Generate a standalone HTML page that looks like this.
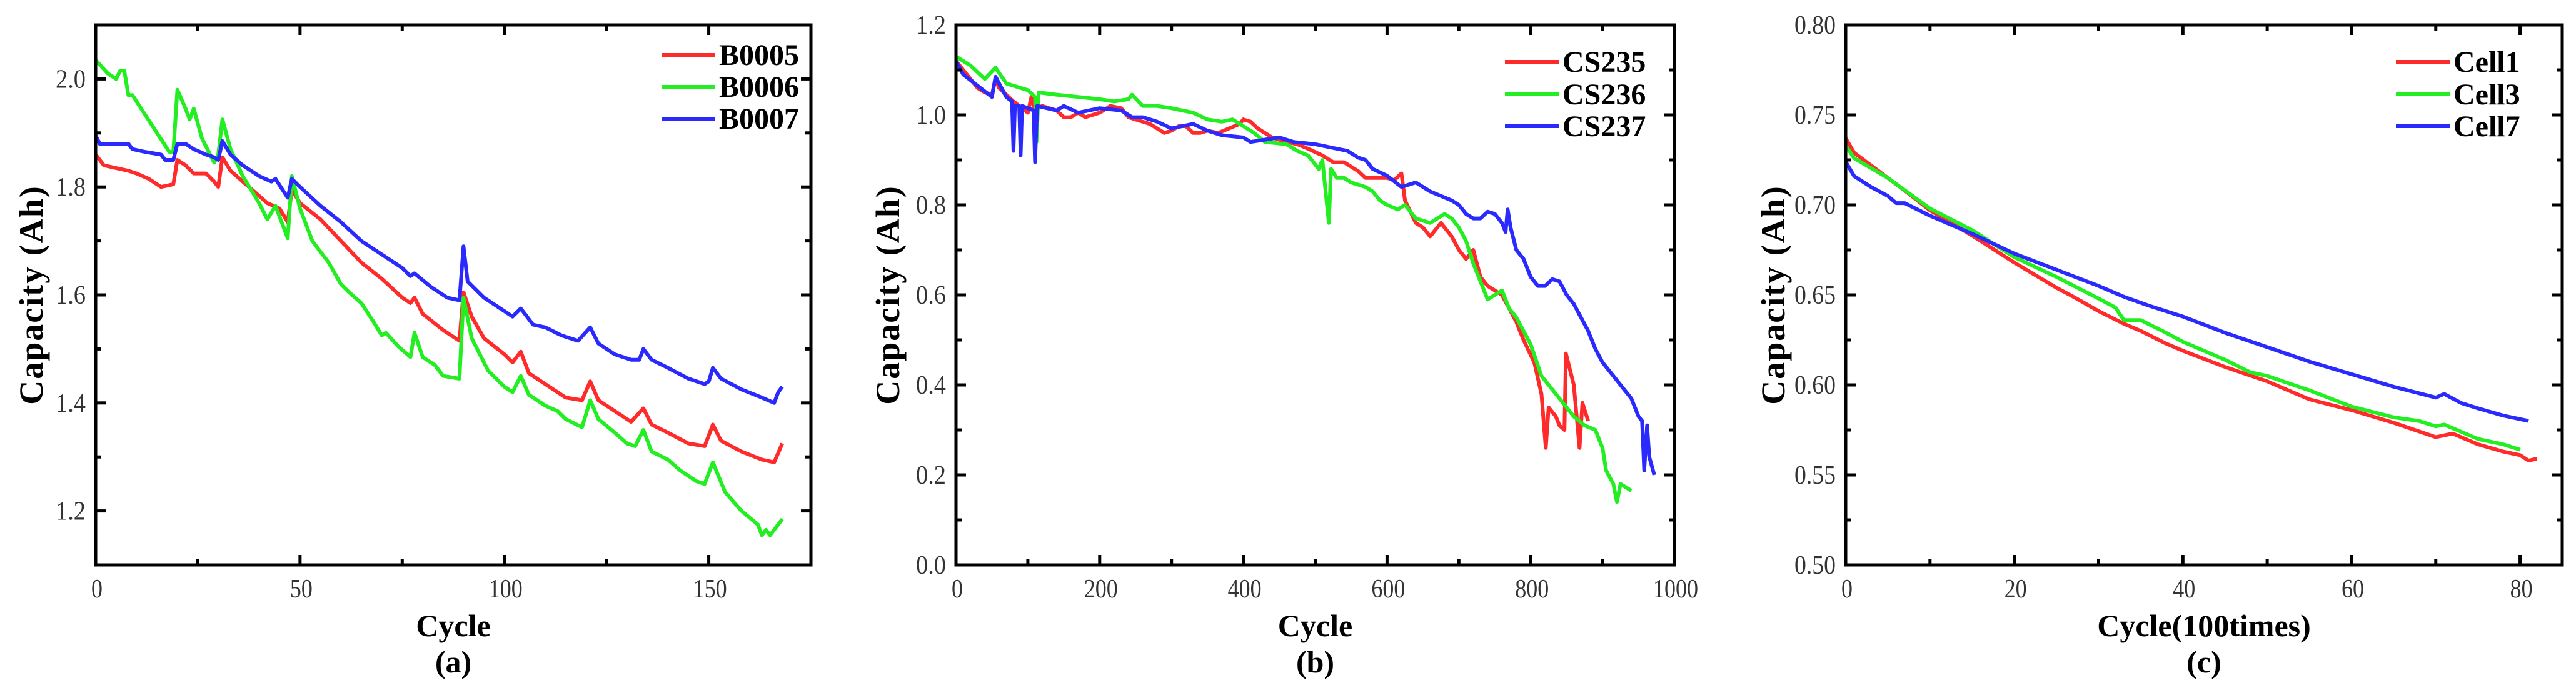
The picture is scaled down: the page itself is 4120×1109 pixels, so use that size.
<!DOCTYPE html>
<html><head><meta charset="utf-8"><style>
html,body{margin:0;padding:0;background:#fff;}
svg{display:block;}
.tk{font-family:"Liberation Serif",serif;font-size:42px;fill:#333;}
.ttl{font-family:"Liberation Serif",serif;font-size:50px;font-weight:bold;fill:#000;}
.ytl{font-family:"Liberation Serif",serif;font-size:54px;font-weight:bold;fill:#000;letter-spacing:2px;}
.lg{font-family:"Liberation Serif",serif;font-size:48px;font-weight:bold;fill:#000;}
</style></head><body>
<svg id="fig" width="4120" height="1109" viewBox="0 0 4120 1109" xmlns="http://www.w3.org/2000/svg"></svg>
<script>
// ---- Panel (a) NASA data: [cycle, capacity]
const aRed = [[0,1.86],[2,1.84],[5,1.835],[8,1.83],[10,1.825],[13,1.815],[16,1.80],[19,1.805],[20,1.85],[22,1.84],[24,1.825],[27,1.825],[29,1.81],[30,1.80],[31,1.855],[33,1.83],[36,1.81],[39,1.79],[42,1.77],[45,1.76],[47,1.735],[48,1.795],[50,1.77],[55,1.74],[60,1.70],[65,1.66],[70,1.63],[75,1.595],[77,1.585],[78,1.595],[80,1.565],[85,1.535],[89,1.515],[90,1.605],[92,1.56],[95,1.52],[100,1.49],[102,1.475],[104,1.495],[106,1.455],[110,1.435],[115,1.41],[119,1.405],[121,1.44],[123,1.405],[127,1.385],[131,1.365],[134,1.39],[136,1.36],[140,1.345],[145,1.325],[149,1.32],[151,1.36],[153,1.33],[158,1.31],[163,1.295],[166,1.29],[168,1.325]];
const aGreen = [[0,2.035],[3,2.01],[5,2.0],[6,2.015],[7,2.015],[8,1.97],[9,1.97],[18,1.865],[19,1.865],[20,1.98],[22,1.945],[23,1.925],[24,1.945],[26,1.89],[29,1.845],[30,1.86],[31,1.925],[33,1.87],[36,1.82],[40,1.77],[42,1.74],[44,1.765],[47,1.705],[48,1.82],[50,1.76],[53,1.70],[57,1.66],[60,1.62],[62,1.605],[65,1.585],[68,1.55],[70,1.525],[71,1.53],[74,1.505],[77,1.485],[78,1.53],[80,1.485],[83,1.47],[85,1.45],[89,1.445],[90,1.595],[92,1.52],[96,1.46],[100,1.43],[102,1.42],[104,1.45],[106,1.415],[110,1.395],[113,1.385],[115,1.37],[119,1.355],[121,1.405],[123,1.37],[127,1.345],[130,1.325],[132,1.32],[134,1.35],[136,1.31],[140,1.295],[143,1.275],[147,1.255],[149,1.25],[151,1.29],[154,1.235],[158,1.20],[162,1.175],[163,1.155],[164,1.165],[165,1.155],[168,1.185]];
const aBlue = [[0,1.895],[1,1.88],[8,1.88],[9,1.87],[12,1.865],[16,1.86],[17,1.85],[19,1.85],[20,1.88],[22,1.88],[24,1.87],[27,1.86],[29,1.855],[30,1.85],[31,1.885],[33,1.86],[36,1.84],[40,1.82],[43,1.81],[44,1.815],[47,1.78],[48,1.815],[50,1.80],[55,1.765],[60,1.735],[65,1.70],[70,1.675],[75,1.65],[77,1.635],[78,1.64],[82,1.615],[86,1.595],[89,1.59],[90,1.69],[91,1.625],[95,1.595],[100,1.57],[102,1.56],[104,1.575],[107,1.545],[110,1.54],[114,1.525],[118,1.515],[121,1.54],[123,1.51],[127,1.49],[131,1.48],[133,1.48],[134,1.50],[136,1.48],[140,1.465],[145,1.445],[149,1.435],[150,1.44],[151,1.465],[153,1.445],[158,1.425],[163,1.41],[166,1.40],[167,1.42],[168,1.43]];
const aXTicks = [0,50,100,150];
const aYTicks = [1.2,1.4,1.6,1.8,2.0];
const aNames = ["B0005","B0006","B0007"];

// ---- Panel (b) CALCE data
const bRed = [[0,1.12],[10,1.10],[20,1.08],[30,1.06],[40,1.05],[50,1.045],[55,1.08],[60,1.06],[80,1.03],[100,1.005],[105,1.04],[110,1.01],[120,1.02],[130,1.015],[140,1.01],[150,0.995],[160,0.995],[170,1.005],[180,0.995],[200,1.005],[215,1.02],[230,1.015],[240,0.995],[250,0.99],[260,0.985],[270,0.98],[280,0.97],[290,0.96],[300,0.965],[310,0.975],[320,0.975],[330,0.96],[340,0.96],[350,0.965],[365,0.96],[380,0.97],[395,0.98],[400,0.99],[410,0.985],[420,0.97],[430,0.96],[440,0.95],[460,0.94],[475,0.935],[490,0.925],[510,0.91],[525,0.895],[540,0.895],[560,0.875],[570,0.86],[580,0.86],[600,0.86],[610,0.855],[620,0.87],[625,0.81],[640,0.76],[650,0.75],[660,0.73],[670,0.75],[675,0.76],[690,0.73],[700,0.70],[710,0.68],[720,0.70],[730,0.64],[740,0.62],[750,0.61],[760,0.60],[770,0.57],[780,0.54],[790,0.50],[805,0.45],[815,0.38],[821,0.26],[825,0.35],[835,0.33],[840,0.31],[847,0.30],[849,0.47],[860,0.40],[868,0.26],[872,0.36],[880,0.32]];
const bGreen = [[0,1.13],[20,1.11],[40,1.08],[55,1.105],[70,1.07],[100,1.055],[110,1.04],[112,0.94],[115,1.05],[140,1.045],[170,1.04],[200,1.035],[220,1.03],[240,1.035],[245,1.045],[260,1.02],[280,1.02],[300,1.015],[315,1.01],[330,1.005],[350,0.99],[370,0.985],[385,0.99],[400,0.975],[415,0.96],[430,0.94],[460,0.935],[475,0.92],[490,0.91],[505,0.88],[510,0.90],[519,0.76],[522,0.88],[530,0.86],[540,0.86],[550,0.85],[560,0.845],[570,0.84],[580,0.83],[590,0.81],[600,0.80],[615,0.79],[625,0.80],[640,0.77],[660,0.76],[670,0.77],[680,0.78],[690,0.77],[700,0.75],[710,0.72],[720,0.67],[730,0.63],[740,0.59],[750,0.60],[760,0.61],[770,0.57],[780,0.55],[790,0.52],[800,0.49],[815,0.42],[830,0.39],[845,0.36],[860,0.33],[875,0.31],[890,0.30],[900,0.26],[905,0.21],[915,0.18],[920,0.14],[925,0.18],[940,0.165]];
const bBlue = [[0,1.12],[10,1.09],[30,1.065],[50,1.04],[55,1.085],[70,1.04],[78,1.03],[80,0.92],[82,1.02],[88,1.02],[90,0.91],[92,1.02],[108,1.01],[110,0.895],[113,1.02],[140,1.01],[150,1.02],[170,1.005],[200,1.015],[230,1.01],[245,0.995],[260,0.995],[280,0.985],[300,0.97],[315,0.975],[330,0.98],[350,0.965],[370,0.955],[400,0.95],[410,0.94],[430,0.945],[450,0.95],[470,0.94],[500,0.935],[515,0.93],[530,0.925],[545,0.92],[560,0.905],[570,0.9],[580,0.88],[600,0.865],[620,0.84],[640,0.85],[650,0.84],[660,0.83],[675,0.82],[690,0.81],[700,0.8],[710,0.78],[720,0.77],[730,0.77],[740,0.785],[750,0.78],[760,0.76],[765,0.74],[768,0.79],[772,0.75],[780,0.70],[790,0.68],[800,0.64],[810,0.62],[820,0.62],[830,0.635],[840,0.63],[850,0.6],[860,0.58],[870,0.55],[880,0.52],[890,0.48],[900,0.45],[910,0.43],[920,0.41],[930,0.39],[940,0.37],[950,0.33],[955,0.32],[958,0.21],[962,0.31],[965,0.24],[972,0.20]];
const bXTicks = [0,200,400,600,800,1000];
const bYTicks = [0.0,0.2,0.4,0.6,0.8,1.0,1.2];
const bNames = ["CS235","CS236","CS237"];

// ---- Panel (c) Oxford data
const cRed = [[0,0.737],[1,0.729],[3,0.722],[5,0.715],[7,0.708],[10,0.697],[15,0.683],[20,0.668],[25,0.654],[27,0.649],[30,0.641],[33,0.634],[35,0.630],[38,0.623],[40,0.619],[45,0.610],[50,0.602],[52,0.598],[55,0.592],[60,0.586],[65,0.579],[70,0.571],[72,0.573],[75,0.567],[78,0.563],[80,0.561],[81,0.558],[82,0.559]];
const cGreen = [[0,0.733],[1,0.726],[5,0.715],[10,0.698],[15,0.686],[20,0.671],[25,0.660],[30,0.648],[32,0.643],[33,0.636],[35,0.636],[38,0.629],[40,0.624],[45,0.614],[48,0.607],[50,0.605],[55,0.597],[60,0.588],[65,0.582],[68,0.580],[70,0.577],[71,0.578],[75,0.570],[78,0.567],[80,0.564]];
const cBlue = [[0,0.724],[1,0.716],[3,0.710],[5,0.705],[6,0.701],[7,0.701],[10,0.694],[15,0.684],[20,0.673],[25,0.664],[30,0.655],[33,0.649],[36,0.644],[40,0.638],[45,0.629],[50,0.621],[55,0.613],[60,0.606],[65,0.599],[70,0.593],[71,0.595],[73,0.590],[75,0.587],[78,0.583],[81,0.580]];
const cXTicks = [0,20,40,60,80];
const cYTicks = [0.50,0.55,0.60,0.65,0.70,0.75,0.80];
const cNames = ["Cell1","Cell3","Cell7"];

const NS = "http://www.w3.org/2000/svg";
const svg = document.getElementById("fig");
function mk(tag, attrs, parent){
  const e = document.createElementNS(NS, tag);
  for (const k in attrs) e.setAttribute(k, attrs[k]);
  (parent||svg).appendChild(e);
  return e;
}
const COLORS = ["#ff2a2a","#22ee22","#2a2aff"];
function tlen(s){ let n = 0; for (const ch of s) n += (ch === ".") ? 12 : 18; return n; }

function panel(p){
  const g = mk("g", {});
  
  
  const X = v => p.L + (v - p.x0) / (p.x1 - p.x0) * (p.R - p.L);
  const Y = v => p.B - (v - p.y0) / (p.y1 - p.y0) * (p.B - p.T);
  p.series.forEach((s, i) => {
    const pl = mk("polyline", {points: s.map(d => X(d[0]).toFixed(1) + "," + Y(d[1]).toFixed(1)).join(" "), fill:"none", stroke:COLORS[i], "stroke-width":6, "stroke-linejoin":"round"}, g);
    
    
  });
  const tg = mk("g", {stroke:"#000","stroke-width":5}, g);
  
  
  const xt = p.xTicks, yt = p.yTicks;
  const xs = (xt[1]-xt[0])/2, ys = (yt[1]-yt[0])/2;
  for (let v = p.x0; v <= p.x1 + 1e-9; v += xs) {
    const major = Math.abs(((v - xt[0]) / (xt[1]-xt[0])) - Math.round((v - xt[0]) / (xt[1]-xt[0]))) < 1e-6;
    const len = major ? 16 : 9, x = X(v);
    if (x < p.L+3 || x > p.R-3) continue;
    mk("line", {x1:x, y1:p.B, x2:x, y2:p.B-len}, tg);
    mk("line", {x1:x, y1:p.T, x2:x, y2:p.T+len}, tg);
  }
  for (let v = p.y0; v <= p.y1 + 1e-9; v += ys) {
    const major = Math.abs(((v - yt[0]) / (yt[1]-yt[0])) - Math.round((v - yt[0]) / (yt[1]-yt[0]))) < 1e-6;
    const len = major ? 16 : 9, y = Y(v);
    if (y < p.T+3 || y > p.B-3) continue;
    mk("line", {x1:p.L, y1:y, x2:p.L+len, y2:y}, tg);
    mk("line", {x1:p.R, y1:y, x2:p.R-len, y2:y}, tg);
  }
  const fr = mk("rect", {x:p.L, y:p.T, width:p.R-p.L, height:p.B-p.T, fill:"none", stroke:"#000", "stroke-width":5}, g);
  
  
  xt.forEach(v => {
    const s = String(v);
    const t = mk("text", {x:X(v)+2, y:956, "text-anchor":"middle", class:"tk", textLength:tlen(s), lengthAdjust:"spacingAndGlyphs"}, g);
    t.textContent = s;
    
    
  });
  yt.forEach(v => {
    const s = v.toFixed(p.yDec);
    const t = mk("text", {x:p.L-16, y:Y(v)+14, "text-anchor":"end", class:"tk", textLength:tlen(s), lengthAdjust:"spacingAndGlyphs"}, g);
    t.textContent = s;
    
    
  });
  const cx = (p.L + p.R) / 2;
  const xtl = mk("text", {x:cx, y:1018, "text-anchor":"middle", class:"ttl"}, g);
  xtl.textContent = p.xTitle;
  
  
  const cap = mk("text", {x:cx, y:1076, "text-anchor":"middle", class:"ttl"}, g);
  cap.textContent = p.caption;
  
  
  const ym = (p.T + p.B) / 2;
  const ytl = mk("text", {x:p.yTitleX, y:ym, "text-anchor":"middle", class:"ytl", transform:"rotate(-90 " + p.yTitleX + " " + ym + ")", dy:"18"}, g);
  ytl.textContent = "Capacity (Ah)";
  
  
  p.names.forEach((n, i) => {
    const y = p.legY[i];
    const lg = mk("g", {}, g);
    
    
    mk("line", {x1:p.legX, y1:y, x2:p.legX+86, y2:y, stroke:COLORS[i], "stroke-width":6}, lg);
    const t = mk("text", {x:p.legX+92, y:y+16, class:"lg"}, lg);
    t.textContent = n;
  });
}

panel({id:"a", L:153, R:1297, T:40, B:904, x0:0, x1:175, y0:1.1, y1:2.1, xTicks:aXTicks, yTicks:aYTicks, yDec:1,
  series:[aRed,aGreen,aBlue], names:aNames, xTitle:"Cycle", caption:"(a)", yTitleX:50, legX:1058, legY:[88,139,190]});
panel({id:"b", L:1529, R:2678, T:40, B:904, x0:0, x1:1000, y0:0, y1:1.2, xTicks:bXTicks, yTicks:bYTicks, yDec:1,
  series:[bRed,bGreen,bBlue], names:bNames, xTitle:"Cycle", caption:"(b)", yTitleX:1420, legX:2407, legY:[99,151,202]});
panel({id:"c", L:2952, R:4098, T:40, B:904, x0:0, x1:85, y0:0.5, y1:0.8, xTicks:cXTicks, yTicks:cYTicks, yDec:2,
  series:[cRed,cGreen,cBlue], names:cNames, xTitle:"Cycle(100times)", caption:"(c)", yTitleX:2836, legX:3832, legY:[99,151,202]});
</script>
</body></html>
